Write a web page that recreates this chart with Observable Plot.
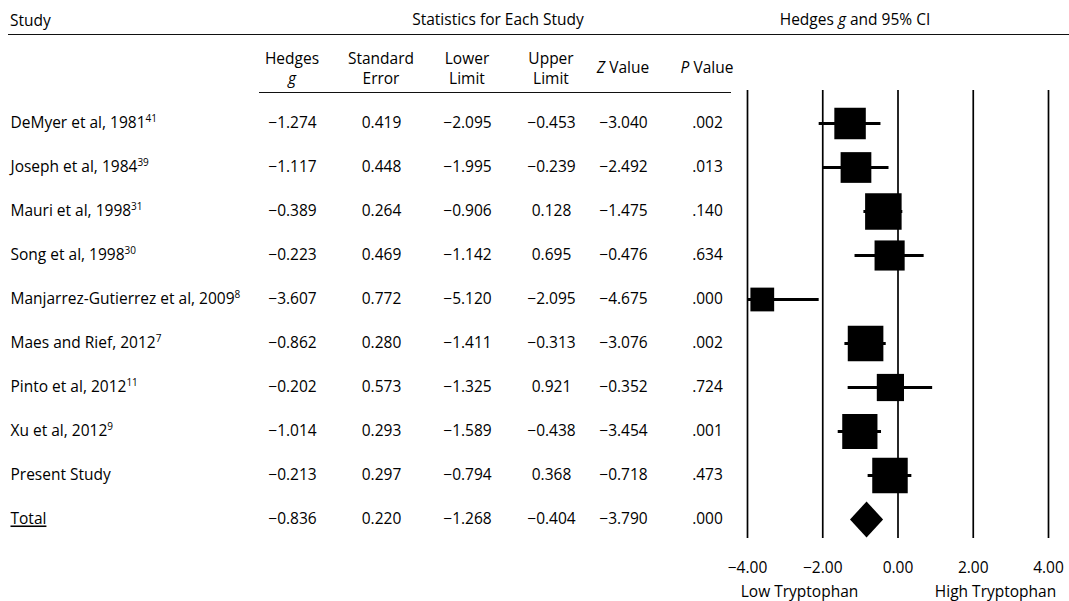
<!DOCTYPE html>
<html><head><meta charset="utf-8">
<script src="https://cdn.jsdelivr.net/npm/d3@7"></script>
<script src="https://cdn.jsdelivr.net/npm/@observablehq/plot@0.6"></script>
<style>
body{margin:0;background:#fff;font-family:"Open Sans",sans-serif;color:#000}
#wrap{position:relative;width:1069px;height:601px;overflow:hidden}
#head{position:absolute;left:0;top:0;width:1069px;height:100px;pointer-events:none;font-size:15.5px}
.h{position:absolute;white-space:nowrap;line-height:20px}
.c{transform:translateX(-50%);text-align:center}
.rule{position:absolute;height:0;border-top:1.5px solid #111}
</style></head><body>
<div id="wrap"><div id="chart"></div><div id="head"></div></div>
<script>
// ---- data ----
const studies = ["DeMyer et al, 1981","Joseph et al, 1984","Mauri et al, 1998","Song et al, 1998","Manjarrez-Gutierrez et al, 2009","Maes and Rief, 2012","Pinto et al, 2012","Xu et al, 2012","Present Study","Total"];
const refs = ["41","39","31","30","8","7","11","9","",""];
const hedgesG = [-1.274,-1.117,-0.389,-0.223,-3.607,-0.862,-0.202,-1.014,-0.213,-0.836];
const stdErr = [0.419,0.448,0.264,0.469,0.772,0.280,0.573,0.293,0.297,0.220];
const lowerLimit = [-2.095,-1.995,-0.906,-1.142,-5.120,-1.411,-1.325,-1.589,-0.794,-1.268];
const upperLimit = [-0.453,-0.239,0.128,0.695,-2.095,-0.313,0.921,-0.438,0.368,-0.404];
const zValue = [-3.040,-2.492,-1.475,-0.476,-4.675,-3.076,-0.352,-3.454,-0.718,-3.790];
const pValue = [0.002,0.013,0.140,0.634,0.000,0.002,0.724,0.001,0.473,0.000];
const relWeight = [10.7,10.2,14.4,9.8,6.1,13.7,8.0,13.4,13.6,null];
const xTicks = [-4,-2,0,2,4];
const sideLabels = ["Low Tryptophan","High Tryptophan"];
const headerTop = ["Study","Statistics for Each Study","Hedges <i>g</i> and 95% CI"];
const colKeys = ["g","se","lower","upper","z","p"];
const colHeads = ["Hedges<br><i>g</i>","Standard<br>Error","Lower<br>Limit","Upper<br>Limit","<i>Z</i> Value","<i>P</i> Value"];

// ---- layout (pixels) ----
const W = 1069, H = 601, ML = 747, MR = 21, MT = 90, MB = 63;
const colX = {g:292, se:381, lower:467, upper:551, z:623, p:707};

const rows = studies.map((s,i)=>({
  label: s === "Total" ? "_Total_" : (refs[i] ? s + "^" + refs[i] : s),
  g: hedgesG[i], se: stdErr[i], lower: lowerLimit[i], upper: upperLimit[i],
  z: zValue[i], p: pValue[i], weight: relWeight[i]
}));
const f3 = d3.format(".3f");
const fmt = {g:f3, se:f3, lower:f3, upper:f3, z:f3, p: v => f3(v).replace(/^0/,"")};

const diamondSym = {draw(c, size){ const r = Math.sqrt(size/Math.PI); const w = r*0.92;
  c.moveTo(0,-r); c.lineTo(w,0); c.lineTo(0,r); c.lineTo(-w,0); c.closePath(); }};

const studyRows = rows.filter(d=>d.weight != null);
const totalRows = rows.filter(d=>d.weight == null);

const chart = Plot.plot({
  width: W, height: H,
  marginLeft: ML, marginRight: MR, marginTop: MT, marginBottom: MB,
  style: {fontFamily: "'Open Sans', sans-serif", fontSize: "15.5px", color: "#000", background: "#fff", overflow: "visible"},
  x: {domain: [-4, 4], axis: null},
  y: {type: "point", domain: rows.map(d=>d.label), range: [120, 522], padding: 0, axis: null},
  r: {type: "sqrt", domain: [0, d3.max(relWeight)], range: [0, 20.6]},
  marks: [
    Plot.ruleX(xTicks, {stroke: "#000", strokeWidth: 1.7}),
    Plot.ruleY(studyRows, {y: "label", x1: "lower", x2: "upper", stroke: "#000", strokeWidth: 3, clip: true}),
    Plot.dot(studyRows, {x: "g", y: "label", r: "weight", symbol: "square", fill: "#000", stroke: "none"}),
    Plot.dot(totalRows, {x: "g", y: "label", r: 18, symbol: diamondSym, fill: "#000", stroke: "none"}),
    Plot.axisX(xTicks, {tickSize: 0, tickPadding: 23, tickFormat: d3.format(".2f"), label: null}),
    Plot.text([sideLabels[0]], {text: d=>d, frameAnchor: "bottom", lineAnchor: "middle", dx: -98.5, dy: 54}),
    Plot.text([sideLabels[1]], {text: d=>d, frameAnchor: "bottom", lineAnchor: "middle", dx: 97.5, dy: 54}),
    Plot.text(rows, {y: "label", text: "label", frameAnchor: "left", textAnchor: "start", dx: 10 - ML}),
    ...colKeys.map(k => Plot.text(rows, {y: "label", text: d => fmt[k](d[k]), frameAnchor: "left", textAnchor: "middle", dx: colX[k] - ML}))
  ]
});

document.getElementById("chart").appendChild(chart);
// rich text: superscripts (^) and underline (_..._)
chart.querySelectorAll("text").forEach(t => {
  const leafs = t.querySelectorAll("tspan").length ? [...t.querySelectorAll("tspan")] : [t];
  leafs.forEach(el => {
    const s = el.textContent;
    if (s.includes("^")) {
      const [a, b] = s.split("^");
      el.textContent = a;
      const sup = document.createElementNS("http://www.w3.org/2000/svg", "tspan");
      sup.setAttribute("dy", "-6"); sup.setAttribute("font-size", "10px");
      sup.textContent = b; el.appendChild(sup);
    } else if (/^_.*_$/.test(s)) {
      el.textContent = s.slice(1, -1);
      el.setAttribute("text-decoration", "underline");
    }
  });
});

// header
const head = document.getElementById("head");
const add = (html, cls, style) => { const d = document.createElement("div"); d.className = cls; d.innerHTML = html; Object.assign(d.style, style); head.appendChild(d); };
add(headerTop[0], "h", {left: "10px", top: "10px"});
add(headerTop[1], "h c", {left: "498px", top: "9px"});
add(headerTop[2], "h c", {left: "855px", top: "9px"});
add("", "rule", {left: "8px", top: "34px", width: (W-8)+"px"});
colKeys.forEach((k,i) => {
  const two = colHeads[i].includes("<br>");
  add(colHeads[i], "h c", {left: colX[k] + "px", top: two ? "48px" : "57px"});
});
add("", "rule", {left: "259px", top: "92px", width: "472px"});
</script>
</body></html>
